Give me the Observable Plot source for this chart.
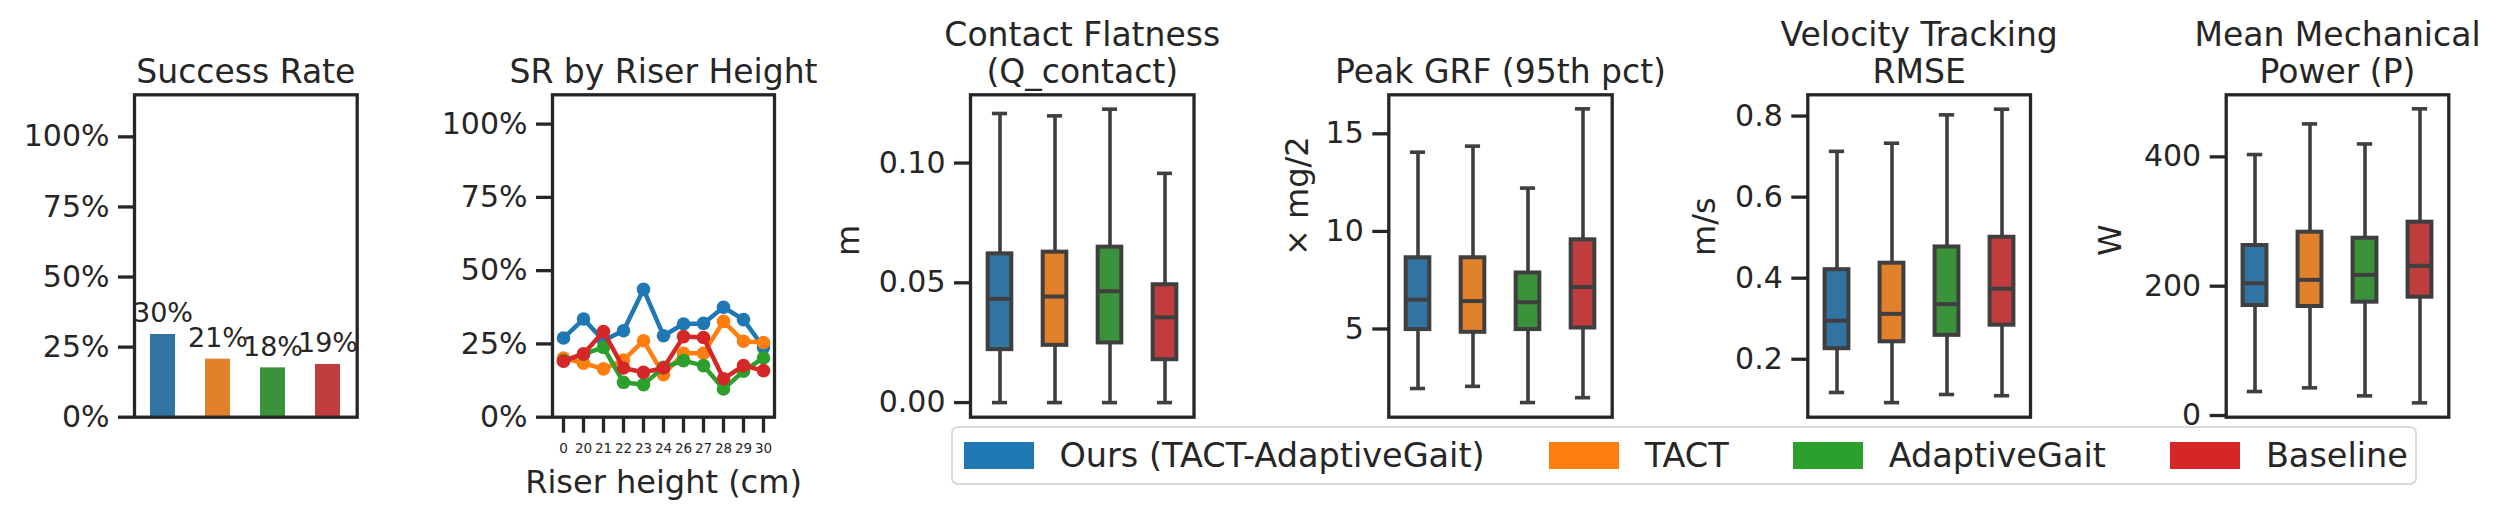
<!DOCTYPE html>
<html><head><meta charset="utf-8">
<script src="https://cdn.jsdelivr.net/npm/d3@7"></script>
<script src="https://cdn.jsdelivr.net/npm/@observablehq/plot@0.6"></script>
<style>
body{margin:0;background:#fff;}
#wrap{position:relative;width:2502px;height:521px;font-family:"DejaVu Sans",sans-serif;color:#262626;overflow:hidden;}
#wrap svg{position:absolute;top:0;}
.legend{position:absolute;left:951px;top:426px;width:1466px;height:59px;box-sizing:border-box;border:2.5px solid #d9d9d9;border-radius:7px;background:rgba(255,255,255,0.85);display:flex;align-items:center;padding-left:10.5px;font-size:33.5px;color:#262626;white-space:nowrap;}
.item{display:flex;align-items:center;margin-right:64px;}
.sw{width:70px;height:27px;margin-right:26px;flex:none;}
</style></head><body><div id="wrap"></div><script>
// ---------------- data ----------------
const methods = ["Ours (TACT-AdaptiveGait)", "TACT", "AdaptiveGait", "Baseline"];
const boxColors = ["#3274a1", "#e1812c", "#3a923a", "#c03d3e"];
const lineColors = ["#1f77b4", "#ff7f0e", "#2ca02c", "#d62728"];

const successRate = [0.295, 0.207, 0.176, 0.188];
const successLabels = ["30%", "21%", "18%", "19%"];

const riserHeights = ["0", "20", "21", "22", "23", "24", "26", "27", "28", "29", "30"];
const srOurs     = [0.270, 0.335, 0.262, 0.295, 0.436, 0.278, 0.318, 0.320, 0.375, 0.333, 0.238];
const srTACT     = [0.202, 0.184, 0.165, 0.195, 0.261, 0.145, 0.218, 0.218, 0.327, 0.259, 0.255];
const srAdaptive = [0.193, 0.215, 0.238, 0.119, 0.111, 0.170, 0.193, 0.176, 0.096, 0.157, 0.202];
const srBaseline = [0.191, 0.216, 0.292, 0.168, 0.153, 0.168, 0.275, 0.272, 0.131, 0.176, 0.159];

// box stats per method: [whisker low, q1, median, q3, whisker high]
const contactFlatness = [
  [0.0, 0.0221, 0.0433, 0.0621, 0.1207],
  [0.0, 0.0239, 0.0443, 0.0628, 0.1197],
  [0.0, 0.0249, 0.0465, 0.0649, 0.1225],
  [0.0, 0.0179, 0.0356, 0.0492, 0.0957]
];
const peakGRF = [
  [1.95, 4.97, 6.50, 8.65, 14.06],
  [2.06, 4.83, 6.43, 8.65, 14.37],
  [1.23, 4.97, 6.37, 7.87, 12.22],
  [1.48, 5.05, 7.15, 9.57, 16.28]
];
const velocityRMSE = [
  [0.118, 0.226, 0.295, 0.421, 0.713],
  [0.093, 0.243, 0.312, 0.437, 0.733],
  [0.113, 0.259, 0.336, 0.477, 0.803],
  [0.110, 0.284, 0.374, 0.501, 0.817]
];
const mechPower = [
  [37.1, 170.1, 204.6, 262.9, 403.6],
  [42.8, 168.6, 209.8, 283.5, 451.0],
  [30.4, 175.3, 217.5, 274.2, 420.0],
  [19.6, 183.0, 231.5, 299.0, 474.3]
];
const pctTicks = [0, 0.25, 0.5, 0.75, 1];

// ---------------- layout / style ----------------
const H = 521, MT = 94.3, MB = 521 - 416.7;
const INK = "#262626", BOXINK = "#3f3f3f";
const TICKFS = 30, TITLEFS = 33, LABELFS = 32;
const wrap = document.getElementById("wrap");
const baseStyle = {fontFamily: "DejaVu Sans", fontSize: "30px", color: INK, background: "transparent", overflow: "visible"};

function place(svg, left) { svg.style.left = left + "px"; wrap.appendChild(svg); }
function titleMark(t) {
  return Plot.text([t], {frameAnchor: "top", dy: -12, lineAnchor: "bottom", fontSize: TITLEFS, lineHeight: 1.12, fill: INK});
}
function yAxis(ticks, fmt) {
  return Plot.axisY({ticks, tickFormat: fmt, tickSize: 16, tickPadding: 9, fontSize: TICKFS, strokeWidth: 3.3, stroke: INK, fill: INK, label: null});
}
function yLabel(t, off) {
  return Plot.text([t], {frameAnchor: "left", dx: -off, rotate: -90, fontSize: LABELFS, fill: INK});
}

// Panel 1: Success Rate bars
{
  const rows = methods.map((m, i) => ({method: m, v: successRate[i], lab: successLabels[i]}));
  const svg = Plot.plot({
    width: 440, height: H, marginLeft: 134, marginRight: 440 - 356.7, marginTop: MT, marginBottom: MB,
    style: baseStyle,
    x: {domain: methods, paddingInner: 0.55, paddingOuter: 0.275, axis: null},
    y: {domain: [0, 1.15]},
    color: {domain: methods, range: boxColors},
    marks: [
      Plot.barY(rows, {x: "method", y: "v", fill: "method"}),
      Plot.text(rows, {x: "method", y: "v", text: "lab", dy: -12, lineAnchor: "bottom", fontSize: 27, fill: INK}),
      Plot.frame({stroke: INK, strokeWidth: 3.3}),
      yAxis(pctTicks, d3.format(".0%")),
      titleMark("Success Rate")
    ]
  });
  place(svg, 0);
}

// Panel 2: SR by riser height
{
  const series = [srOurs, srTACT, srAdaptive, srBaseline];
  const marks = [];
  series.forEach((s, i) => {
    const rows = riserHeights.map((h, j) => ({h, v: s[j], method: methods[i]}));
    marks.push(Plot.line(rows, {x: "h", y: "v", stroke: lineColors[i], strokeWidth: 4.5, strokeLinejoin: "round"}));
    marks.push(Plot.dot(rows, {x: "h", y: "v", fill: lineColors[i], r: 6.8, stroke: null}));
  });
  const svg = Plot.plot({
    width: 390, height: H, marginLeft: 552 - 440, marginRight: 830 - 774, marginTop: MT, marginBottom: MB,
    style: baseStyle,
    x: {domain: riserHeights, type: "point", padding: 0.5},
    y: {domain: [0, 1.10]},
    marks: [
      ...marks,
      Plot.frame({stroke: INK, strokeWidth: 3.3}),
      yAxis(pctTicks, d3.format(".0%")),
      Plot.axisX({tickSize: 16, tickPadding: 10, fontSize: 13.5, strokeWidth: 3.3, stroke: INK, fill: INK, label: null}),
      Plot.text(["Riser height (cm)"], {frameAnchor: "bottom", dy: 76, lineAnchor: "bottom", fontSize: LABELFS, fill: INK}),
      titleMark("SR by Riser Height")
    ]
  });
  place(svg, 440);
}

// Box panels
function boxPanel({left, width, frameL, frameR, title, ylabel, labelOff, domain, ticks, fmt, stats}) {
  const rows = methods.map((m, i) => ({method: m, lo: stats[i][0], q1: stats[i][1], med: stats[i][2], q3: stats[i][3], hi: stats[i][4]}));
  const fw = frameR - frameL, step = fw / 4;
  const boxInset = (step - 24.5) / 2, capInset = (step - 16) / 2;
  const svg = Plot.plot({
    width, height: H, marginLeft: frameL - left, marginRight: left + width - frameR, marginTop: MT, marginBottom: MB,
    style: baseStyle,
    x: {domain: methods, padding: 0, axis: null},
    y: {domain},
    color: {domain: methods, range: boxColors},
    marks: [
      Plot.ruleX(rows, {x: "method", y1: "lo", y2: "q1", stroke: BOXINK, strokeWidth: 3.6}),
      Plot.ruleX(rows, {x: "method", y1: "q3", y2: "hi", stroke: BOXINK, strokeWidth: 3.6}),
      Plot.tickY(rows, {x: "method", y: "lo", inset: capInset, stroke: BOXINK, strokeWidth: 3.6}),
      Plot.tickY(rows, {x: "method", y: "hi", inset: capInset, stroke: BOXINK, strokeWidth: 3.6}),
      Plot.barY(rows, {x: "method", y1: "q1", y2: "q3", fill: "method", stroke: BOXINK, strokeWidth: 4, insetLeft: boxInset, insetRight: boxInset}),
      Plot.tickY(rows, {x: "method", y: "med", inset: boxInset, stroke: BOXINK, strokeWidth: 4}),
      Plot.frame({stroke: INK, strokeWidth: 3.3}),
      yAxis(ticks, fmt),
      yLabel(ylabel, labelOff),
      titleMark(title)
    ]
  });
  place(svg, left);
}

boxPanel({left: 830, width: 430, frameL: 970, frameR: 1193.5, title: "Contact Flatness\n(Q_contact)", ylabel: "m", labelOff: 122,
  domain: [-0.0061, 0.1285], ticks: [0, 0.05, 0.10], fmt: d3.format(".2f"), stats: contactFlatness});
boxPanel({left: 1260, width: 420, frameL: 1388.3, frameR: 1611.7, title: "Peak GRF (95th pct)", ylabel: "× mg/2", labelOff: 91,
  domain: [0.48, 17.0], ticks: [5, 10, 15], fmt: d3.format("d"), stats: peakGRF});
boxPanel({left: 1680, width: 410, frameL: 1807.3, frameR: 2030, title: "Velocity Tracking\nRMSE", ylabel: "m/s", labelOff: 103,
  domain: [0.057, 0.8525], ticks: [0.2, 0.4, 0.6, 0.8], fmt: d3.format(".1f"), stats: velocityRMSE});
boxPanel({left: 2090, width: 412, frameL: 2225.7, frameR: 2448.3, title: "Mean Mechanical\nPower (P)", ylabel: "W", labelOff: 115,
  domain: [-2.6, 496], ticks: [0, 200, 400], fmt: d3.format("d"), stats: mechPower});

// Legend
{
  const lg = document.createElement("div");
  lg.className = "legend";
  methods.forEach((m, i) => {
    const it = document.createElement("div");
    it.className = "item";
    const sw = document.createElement("span");
    sw.className = "sw"; sw.style.background = lineColors[i];
    const lb = document.createElement("span");
    lb.textContent = m;
    it.appendChild(sw); it.appendChild(lb);
    lg.appendChild(it);
  });
  wrap.appendChild(lg);
}
</script></body></html>
